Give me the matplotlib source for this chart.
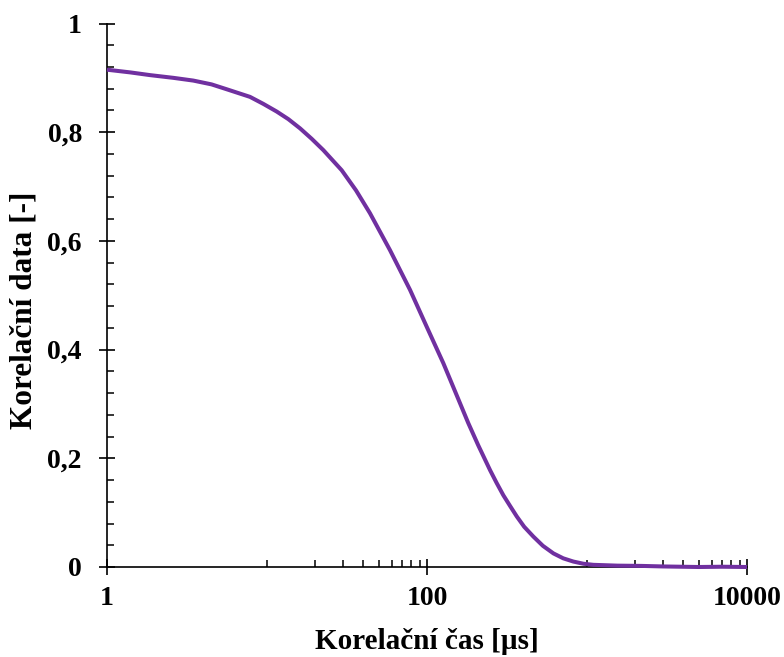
import matplotlib
matplotlib.use("Agg")
import matplotlib.pyplot as plt
from matplotlib.ticker import FixedLocator, NullFormatter

# Data
tau_us = [1, 1.4, 1.86, 2.6, 3.46, 4.5, 5.6, 7.83, 9.5, 11.5, 13.6, 16.1,
          19.0, 22.5, 29.3, 36.0, 44.0, 58.7, 78.3, 99.6, 126.5, 161, 181,
          209, 248, 272, 300, 331, 364, 405, 462, 530, 617, 710, 822, 950,
          1096, 1549, 2200, 3000, 5000, 7000, 10000]
corr = [0.915, 0.910, 0.905, 0.900, 0.895, 0.888, 0.879, 0.865, 0.852, 0.838,
        0.824, 0.807, 0.788, 0.767, 0.730, 0.693, 0.651, 0.583, 0.510, 0.442,
        0.375, 0.301, 0.265, 0.224, 0.178, 0.155, 0.132, 0.112, 0.093, 0.074,
        0.056, 0.039, 0.025, 0.016, 0.010, 0.006, 0.004, 0.0025, 0.002, 0.001,
        0.0, 0.0005, 0.0]

x_major = [1, 100, 10000]
x_major_labels = ["1", "100", "10000"]
y_major = [0, 0.2, 0.4, 0.6, 0.8, 1.0]
y_major_labels = ["0", "0,2", "0,4", "0,6", "0,8", "1"]

x_label = "Korelační čas [µs]"
y_label = "Korelační data [-]"

plt.rcParams['font.family'] = ['Liberation Serif', 'DejaVu Serif']
plt.rcParams['font.weight'] = 'bold'

fig = plt.figure(figsize=(7.84, 6.57), dpi=100)
ax = fig.add_axes([107/784, 1-567/657, (747-107)/784, (567-23.5)/657])

ax.plot(tau_us, corr, color="#7030A0", lw=2.9, clip_on=False, zorder=5,
        solid_capstyle='butt', solid_joinstyle='round')

ax.set_xscale('log')
ax.set_xlim(1, 10000)
ax.set_ylim(0, 1)

ax.xaxis.set_major_locator(FixedLocator(x_major))
ax.set_xticklabels(x_major_labels)
x_minor = [10*k for k in range(1, 10)] + [1000*k for k in range(1, 10)]
ax.xaxis.set_minor_locator(FixedLocator(x_minor))
ax.xaxis.set_minor_formatter(NullFormatter())

ax.yaxis.set_major_locator(FixedLocator(y_major))
ax.set_yticklabels(y_major_labels)
ax.yaxis.set_minor_locator(FixedLocator([i*0.04 for i in range(26)]))

for s in ['top', 'right']:
    ax.spines[s].set_visible(False)
for s in ['left', 'bottom']:
    ax.spines[s].set_linewidth(1.2)
    ax.spines[s].set_color('black')

ax.tick_params(axis='both', which='major', direction='inout', length=12,
               width=1.2, labelsize=20, colors='black')
ax.tick_params(axis='both', which='minor', direction='in', length=5,
               width=1.1, colors='black')
ax.tick_params(axis='x', which='major', pad=8)
ax.tick_params(axis='y', which='major', pad=12)

for lab in ax.get_xticklabels() + ax.get_yticklabels():
    lab.set_fontweight('bold')

ax.set_xlabel(x_label, fontsize=21, fontweight='bold', labelpad=12)
ax.set_ylabel(y_label, fontsize=22.5, fontweight='bold')
ax.yaxis.set_label_coords((39-107)/640, (567-310)/543.5)

fig.savefig("out.png", dpi=100)
